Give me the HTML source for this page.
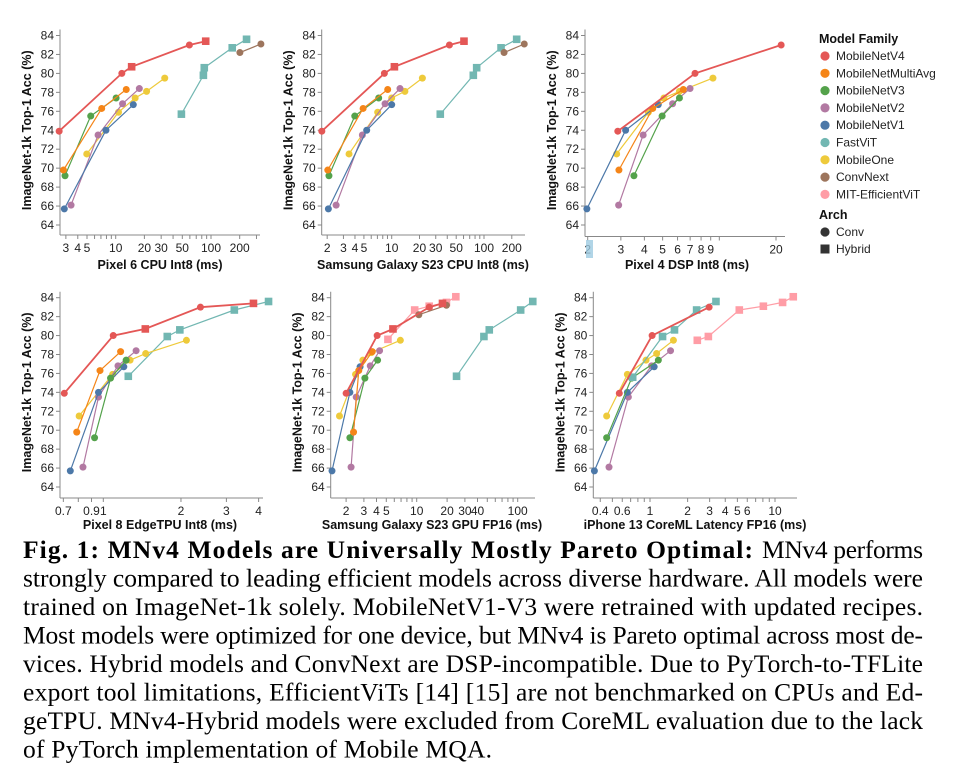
<!DOCTYPE html>
<html><head><meta charset="utf-8"><style>
html,body{margin:0;padding:0;background:#fff;}
svg{display:block;}
.tk{font-family:"Liberation Sans",sans-serif;font-size:12px;fill:#222;}
.at{font-family:"Liberation Sans",sans-serif;font-size:12.5px;font-weight:bold;fill:#111;}
.cap{font-family:"Liberation Serif",serif;font-size:25.5px;fill:#000;}
</style></head><body>
<svg id="fig" width="965" height="769" viewBox="0 0 965 769" xmlns="http://www.w3.org/2000/svg">
<g id="plots"></g>
<g id="legend"></g>
<g>
<text class="cap" x="23" y="558" font-weight="bold" textLength="730" lengthAdjust="spacing">Fig. 1: MNv4 Models are Universally Mostly Pareto Optimal:</text>
<text class="cap" x="762" y="558" textLength="161" lengthAdjust="spacing">MNv4 performs</text>
<text class="cap" x="23" y="586.5" textLength="900" lengthAdjust="spacing">strongly compared to leading efficient models across diverse hardware. All models were</text>
<text class="cap" x="23" y="615" textLength="900" lengthAdjust="spacing">trained on ImageNet-1k solely. MobileNetV1-V3 were retrained with updated recipes.</text>
<text class="cap" x="23" y="643.5" textLength="900" lengthAdjust="spacing">Most models were optimized for one device, but MNv4 is Pareto optimal across most de-</text>
<text class="cap" x="23" y="672" textLength="900" lengthAdjust="spacing">vices. Hybrid models and ConvNext are DSP-incompatible. Due to PyTorch-to-TFLite</text>
<text class="cap" x="23" y="700.5" textLength="900" lengthAdjust="spacing">export tool limitations, EfficientViTs [14] [15] are not benchmarked on CPUs and Ed-</text>
<text class="cap" x="23" y="729" textLength="900" lengthAdjust="spacing">geTPU. MNv4-Hybrid models were excluded from CoreML evaluation due to the lack</text>
<text class="cap" x="23" y="757.5" textLength="469" lengthAdjust="spacing">of PyTorch implementation of Mobile MQA.</text>
</g>
</svg>
<script>
// ---- data ----
const accTicks = [64,66,68,70,72,74,76,78,80,82,84];
const pixel6Ticks = [3,4,5,10,20,30,50,100,200];
const s23cpuTicks = [2,3,4,5,10,20,30,50,100,200];
const dspTicks = [2,3,4,5,6,7,8,9,20];
const edgeTicks = [0.7,0.9,1,2,3,4];
const gpuTicks = [2,3,4,5,10,20,30,40,100];
const iphoneTicks = [0.4,0.6,1,2,3,4,5,6,10];

const familyNames = ["MobileNetV4","MobileNetMultiAvg","MobileNetV3","MobileNetV2","MobileNetV1","FastViT","MobileOne","ConvNext","MIT-EfficientViT"];
const familyColors = ["#e45756","#f58518","#54a24b","#b279a2","#4c78a8","#72b7b2","#eeca3b","#9d755d","#ff9da6"];

// Pixel 6 CPU
const p1_mnv4_lat=[2.55,11.6,14.7,59.3,88], p1_mnv4_acc=[73.9,80.0,80.7,83.0,83.4], p1_mnv4_arch=["c","c","h","c","h"];
const p1_multi_lat=[2.83,7.13,12.9], p1_multi_acc=[69.8,76.3,78.3];
const p1_v3_lat=[2.94,5.47,10.1], p1_v3_acc=[69.2,75.5,77.4];
const p1_v2_lat=[3.40,6.53,11.8,17.7], p1_v2_acc=[66.1,73.5,76.8,78.4];
const p1_v1_lat=[2.89,7.9,15.3], p1_v1_acc=[65.7,74.0,76.7];
const p1_fast_lat=[48.9,83.2,85,167,236], p1_fast_acc=[75.7,79.8,80.6,82.7,83.6];
const p1_one_lat=[4.97,10.7,16.0,21.1,32.7], p1_one_acc=[71.5,75.9,77.4,78.1,79.5];
const p1_cnx_lat=[201,334], p1_cnx_acc=[82.2,83.1];
// S23 CPU
const p2_mnv4_lat=[1.75,8.33,10.7,42.2,60.7], p2_mnv4_acc=[73.9,80.0,80.7,83.0,83.4], p2_mnv4_arch=["c","c","h","c","h"];
const p2_multi_lat=[2.03,4.9,9.05], p2_multi_acc=[69.8,76.3,78.3];
const p2_v3_lat=[2.09,3.98,7.23], p2_v3_acc=[69.2,75.5,77.4];
const p2_v2_lat=[2.5,4.81,8.47,12.3], p2_v2_acc=[66.1,73.5,76.8,78.4];
const p2_v1_lat=[2.06,5.36,10], p2_v1_acc=[65.7,74.0,76.7];
const p2_fast_lat=[33.6,76.6,83.3,153,226], p2_fast_acc=[75.7,79.8,80.6,82.7,83.6];
const p2_one_lat=[3.45,7.05,10,13.9,21.5], p2_one_acc=[71.5,75.9,77.4,78.1,79.5];
const p2_cnx_lat=[165,273], p2_cnx_acc=[82.2,83.1];
// Pixel 4 DSP
const p3_mnv4_lat=[2.89,7.43,21.3], p3_mnv4_acc=[73.9,80.0,83.0], p3_mnv4_arch=["c","c","c"];
const p3_multi_lat=[2.93,4.43,6.44], p3_multi_acc=[69.8,76.3,78.3];
const p3_v3_lat=[3.52,4.97,6.14], p3_v3_acc=[69.2,75.5,77.4];
const p3_v2_lat=[2.92,3.94,5.65,6.99], p3_v2_acc=[66.1,73.5,76.8,78.4];
const p3_v1_lat=[1.98,3.18,4.74], p3_v1_acc=[65.7,74.0,76.7];
const p3_one_lat=[2.85,4.2,5.08,6.14,9.25], p3_one_acc=[71.5,75.9,77.4,78.1,79.5];
// Pixel 8 EdgeTPU
const p4_mnv4_lat=[0.706,1.093,1.455,2.38,3.82], p4_mnv4_acc=[73.9,80.0,80.7,83.0,83.4], p4_mnv4_arch=["c","c","h","c","h"];
const p4_multi_lat=[0.789,0.971,1.167], p4_multi_acc=[69.8,76.3,78.3];
const p4_v3_lat=[0.925,1.067,1.226], p4_v3_acc=[69.2,75.5,77.4];
const p4_v2_lat=[0.834,0.958,1.14,1.34], p4_v2_acc=[66.1,73.5,76.8,78.4];
const p4_v1_lat=[0.745,0.958,1.201], p4_v1_acc=[65.7,74.0,76.7];
const p4_fast_lat=[1.25,1.77,1.98,3.22,4.37], p4_fast_acc=[75.7,79.9,80.6,82.7,83.6];
const p4_one_lat=[0.806,1.087,1.27,1.46,2.10], p4_one_acc=[71.5,75.9,77.4,78.1,79.5];
// S23 GPU
const p5_mnv4_lat=[2.0,4.06,5.82,13.3,18.0], p5_mnv4_acc=[73.9,80.0,80.7,83.0,83.4], p5_mnv4_arch=["c","c","h","c","h"];
const p5_multi_lat=[2.37,2.67,3.63], p5_multi_acc=[69.8,76.3,78.3];
const p5_v3_lat=[2.18,3.07,4.1], p5_v3_acc=[69.2,75.5,77.4];
const p5_v2_lat=[2.24,2.52,3.47,4.29], p5_v2_acc=[66.1,73.5,76.8,78.4];
const p5_v1_lat=[1.45,2.18,2.75], p5_v1_acc=[65.7,74.0,76.7];
const p5_fast_lat=[24.8,46.3,52.3,107,141], p5_fast_acc=[75.7,79.9,80.6,82.7,83.6];
const p5_one_lat=[1.72,2.48,2.93,3.55,6.89], p5_one_acc=[71.5,75.9,77.4,78.2,79.5];
const p5_cnx_lat=[10.5,19.7], p5_cnx_acc=[82.2,83.2];
const p5_eff_lat=[5.19,9.55,13.3,19.7,24.4], p5_eff_acc=[79.6,82.7,83.1,83.5,84.1];
// iPhone 13 CoreML
const p6_mnv4_lat=[0.568,1.04,2.97], p6_mnv4_acc=[73.9,80.0,83.0], p6_mnv4_arch=["c","c","c"];
const p6_v3_lat=[0.45,0.713,1.166], p6_v3_acc=[69.2,75.5,77.4];
const p6_v2_lat=[0.47,0.671,1.03,1.46], p6_v2_acc=[66.1,73.5,76.8,78.4];
const p6_v1_lat=[0.359,0.659,1.08], p6_v1_acc=[65.7,74.0,76.7];
const p6_one_lat=[0.45,0.659,0.929,1.13,1.54], p6_one_acc=[71.5,75.9,77.4,78.1,79.5];
const p6_fast_lat=[0.727,1.26,1.57,2.36,3.37], p6_fast_acc=[75.6,79.9,80.6,82.7,83.6];
const p6_eff_lat=[2.39,2.93,5.18,8.07,11.5,14.0], p6_eff_acc=[79.5,79.9,82.7,83.1,83.5,84.1];

// ---- layout ----
const C = {v4:"#e45756",multi:"#f58518",v3:"#54a24b",v2:"#b279a2",v1:"#4c78a8",fast:"#72b7b2",one:"#eeca3b",cnx:"#9d755d",eff:"#ff9da6"};
function S(key,fam,lat,acc,arch){return {key,fam,lat,acc,arch};}
const panels = [
 {name:"pixel6-cpu",title:"Pixel 6 CPU Int8 (ms)",ax:60,right:260,top:35.5,bot:225,axY:235,rv:10,rp:115.7,dec:95.3,ticks:pixel6Ticks,tx:160,ty:269,
  series:[S("fastvit","fast",p1_fast_lat,p1_fast_acc,"h"),S("convnext","cnx",p1_cnx_lat,p1_cnx_acc,"c"),S("mobileone","one",p1_one_lat,p1_one_acc,"c"),S("mobilenetv2","v2",p1_v2_lat,p1_v2_acc,"c"),S("mobilenetv1","v1",p1_v1_lat,p1_v1_acc,"c"),S("mobilenetv3","v3",p1_v3_lat,p1_v3_acc,"c"),S("multiavg","multi",p1_multi_lat,p1_multi_acc,"c"),S("mobilenetv4","v4",p1_mnv4_lat,p1_mnv4_acc,p1_mnv4_arch)]},
 {name:"s23-cpu",title:"Samsung Galaxy S23 CPU Int8 (ms)",ax:321.7,right:525,top:35.5,bot:225,axY:235,rv:10,rp:391.7,dec:92.3,ticks:s23cpuTicks,tx:423,ty:269,
  series:[S("fastvit","fast",p2_fast_lat,p2_fast_acc,"h"),S("convnext","cnx",p2_cnx_lat,p2_cnx_acc,"c"),S("mobileone","one",p2_one_lat,p2_one_acc,"c"),S("mobilenetv2","v2",p2_v2_lat,p2_v2_acc,"c"),S("mobilenetv1","v1",p2_v1_lat,p2_v1_acc,"c"),S("mobilenetv3","v3",p2_v3_lat,p2_v3_acc,"c"),S("multiavg","multi",p2_multi_lat,p2_multi_acc,"c"),S("mobilenetv4","v4",p2_mnv4_lat,p2_mnv4_acc,p2_mnv4_arch)]},
 {name:"pixel4-dsp",title:"Pixel 4 DSP Int8 (ms)",ax:585,right:785,top:35.5,bot:225,axY:236.5,rv:2,rp:587.7,dec:188.3,ticks:dspTicks,tx:687,ty:269,
  series:[S("mobileone","one",p3_one_lat,p3_one_acc,"c"),S("mobilenetv2","v2",p3_v2_lat,p3_v2_acc,"c"),S("mobilenetv1","v1",p3_v1_lat,p3_v1_acc,"c"),S("mobilenetv3","v3",p3_v3_lat,p3_v3_acc,"c"),S("multiavg","multi",p3_multi_lat,p3_multi_acc,"c"),S("mobilenetv4","v4",p3_mnv4_lat,p3_mnv4_acc,p3_mnv4_arch)]},
 {name:"pixel8-edgetpu",title:"Pixel 8 EdgeTPU Int8 (ms)",ax:60,right:263,top:297.7,bot:487,axY:498,rv:1,rp:103.3,dec:258,ticks:edgeTicks,tx:160,ty:529,
  series:[S("fastvit","fast",p4_fast_lat,p4_fast_acc,"h"),S("mobileone","one",p4_one_lat,p4_one_acc,"c"),S("mobilenetv2","v2",p4_v2_lat,p4_v2_acc,"c"),S("mobilenetv1","v1",p4_v1_lat,p4_v1_acc,"c"),S("mobilenetv3","v3",p4_v3_lat,p4_v3_acc,"c"),S("multiavg","multi",p4_multi_lat,p4_multi_acc,"c"),S("mobilenetv4","v4",p4_mnv4_lat,p4_mnv4_acc,p4_mnv4_arch)]},
 {name:"s23-gpu",title:"Samsung Galaxy S23 GPU FP16 (ms)",ax:330.7,right:535,top:297.7,bot:487,axY:498,rv:10,rp:416.7,dec:101,ticks:gpuTicks,tx:432,ty:529,
  series:[S("fastvit","fast",p5_fast_lat,p5_fast_acc,"h"),S("efficientvit","eff",p5_eff_lat,p5_eff_acc,"h"),S("convnext","cnx",p5_cnx_lat,p5_cnx_acc,"c"),S("mobileone","one",p5_one_lat,p5_one_acc,"c"),S("mobilenetv2","v2",p5_v2_lat,p5_v2_acc,"c"),S("mobilenetv1","v1",p5_v1_lat,p5_v1_acc,"c"),S("mobilenetv3","v3",p5_v3_lat,p5_v3_acc,"c"),S("multiavg","multi",p5_multi_lat,p5_multi_acc,"c"),S("mobilenetv4","v4",p5_mnv4_lat,p5_mnv4_acc,p5_mnv4_arch)]},
 {name:"iphone13-coreml",title:"iPhone 13 CoreML Latency FP16 (ms)",ax:593.3,right:797,top:297.7,bot:487,axY:498,rv:1,rp:650,dec:125,ticks:iphoneTicks,tx:695,ty:529,
  series:[S("efficientvit","eff",p6_eff_lat,p6_eff_acc,"h"),S("mobileone","one",p6_one_lat,p6_one_acc,"c"),S("mobilenetv2","v2",p6_v2_lat,p6_v2_acc,"c"),S("mobilenetv1","v1",p6_v1_lat,p6_v1_acc,"c"),S("mobilenetv3","v3",p6_v3_lat,p6_v3_acc,"c"),S("fastvit","fast",p6_fast_lat,p6_fast_acc,"h"),S("mobilenetv4","v4",p6_mnv4_lat,p6_mnv4_acc,p6_mnv4_arch)]}
];
const NS="http://www.w3.org/2000/svg";
function mk(tag,attrs,parent){const e=document.createElementNS(NS,tag);for(const k in attrs)e.setAttribute(k,attrs[k]);parent.appendChild(e);return e;}
const root=document.getElementById("plots");
panels.forEach(p=>{
  const xs=v=>p.rp+Math.log10(v/p.rv)*p.dec;
  const ys=v=>p.top+(84-v)*(p.bot-p.top)/20;
  const g=mk("g",{},root);
  
  
  const ya=mk("line",{x1:p.ax,y1:p.top-6,x2:p.ax,y2:p.axY,stroke:"#888","stroke-width":1},g);
  
  
  const xa=mk("line",{x1:p.ax,y1:p.axY,x2:p.right,y2:p.axY,stroke:"#888","stroke-width":1},g);
  
  
  accTicks.forEach(t=>{
    const y=ys(t);
    mk("line",{x1:p.ax-4,y1:y,x2:p.ax,y2:y,stroke:"#888"},g);
    const tl=mk("text",{x:p.ax-6,y:y+4,"text-anchor":"end",class:"tk"},g);
    tl.textContent=t;
    
    
  });
  for(let k=-2;k<=3;k++){for(let n=1;n<=9;n++){
    const v=n*Math.pow(10,k);const x=xs(v);
    if(x<p.ax-0.5||x>p.right+0.5)continue;
    mk("line",{x1:x,y1:p.axY,x2:x,y2:p.axY+4,stroke:"#888"},g);
  }}
  p.ticks.forEach(t=>{
    const tl=mk("text",{x:xs(t),y:p.axY+17,"text-anchor":"middle",class:"tk"},g);
    tl.textContent=t;
    
    
  });
  const xt=mk("text",{x:p.tx,y:p.ty,"text-anchor":"middle",class:"at"},g);
  xt.textContent=p.title;
  
  
  const cy=(p.top+p.bot)/2, cx=p.ax-29;
  const yt=mk("text",{x:cx,y:cy,"text-anchor":"middle",class:"at",transform:`rotate(-90 ${cx} ${cy})`},g);
  yt.textContent="ImageNet-1k Top-1 Acc (%)";
  
  
  p.series.forEach(s=>{
    const col=C[s.fam];
    const sg=mk("g",{},g);
    
    
    const pts=s.lat.map((v,i)=>xs(v).toFixed(1)+","+ys(s.acc[i]).toFixed(1)).join(" ");
    const ln=mk("polyline",{points:pts,fill:"none",stroke:col,"stroke-width":s.fam==="v4"?1.8:1.2},sg);
    
    
    s.lat.forEach((v,i)=>{
      const a=Array.isArray(s.arch)?s.arch[i]:s.arch;
      const x=xs(v),y=ys(s.acc[i]);
      let m;
      if(a==="h"){m=mk("rect",{x:x-3.8,y:y-3.8,width:7.6,height:7.6,fill:col},sg);}
      else{m=mk("circle",{cx:x,cy:y,r:3.5,fill:col},sg);}
      
      
    });
  });
});
const hb=mk("rect",{x:586,y:240,width:7,height:18,fill:"#9ecae1",opacity:0.8},root);


const lg=document.getElementById("legend");
const lt=mk("text",{x:819,y:43,class:"at"},lg);
lt.textContent="Model Family";


familyNames.forEach((n,i)=>{
  const y=56+i*17.3;
  const e=mk("g",{},lg);
  
  
  mk("circle",{cx:825,cy:y,r:4.6,fill:familyColors[i]},e);
  const t=mk("text",{x:836,y:y+4,class:"tk"},e);
  t.textContent=n;
});
const at=mk("text",{x:819,y:219,class:"at"},lg);
at.textContent="Arch";


const e1=mk("g",{},lg);


mk("circle",{cx:825,cy:232,r:4.6,fill:"#333"},e1);
mk("text",{x:836,y:236,class:"tk"},e1).textContent="Conv";
const e2=mk("g",{},lg);


mk("rect",{x:820.5,y:244.5,width:9,height:9,fill:"#333"},e2);
mk("text",{x:836,y:253,class:"tk"},e2).textContent="Hybrid";
</script>
</body></html>
